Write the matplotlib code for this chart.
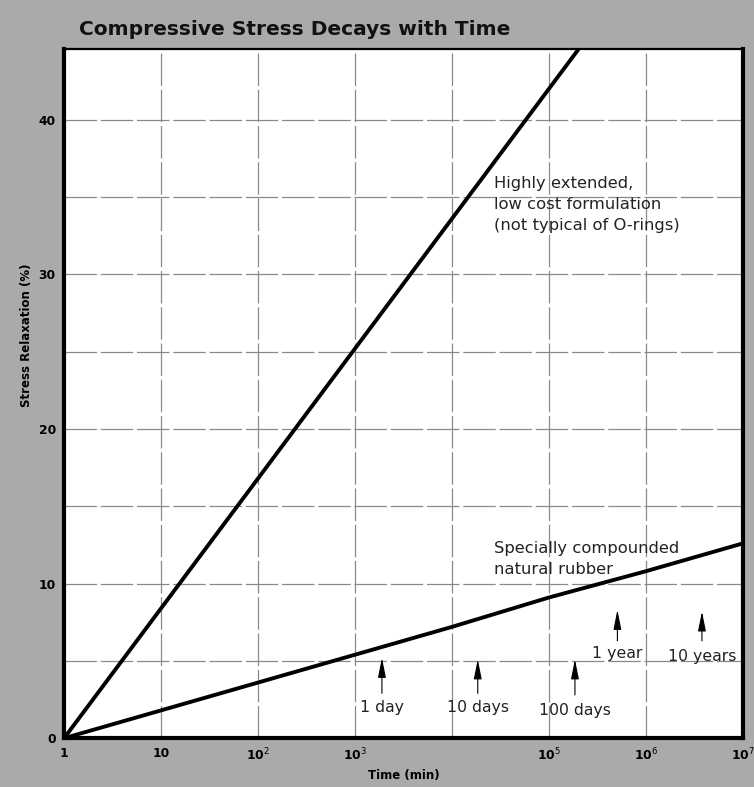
import matplotlib
matplotlib.use("Agg")
import matplotlib.pyplot as plt

# ---- data ----
title = "Compressive Stress Decays with Time"
x_label = "Time (min)"
y_label = "Stress Relaxation (%)"

x_ticks = [1, 10, 1e2, 1e3, 1e4, 1e5, 1e6, 1e7]
x_tick_labels = ["1", "10", "10$^2$", "10$^3$", "", "10$^5$", "10$^6$", "10$^7$"]
y_ticks = [0, 10, 20, 30, 40]
y_grid = [5, 10, 15, 20, 25, 30, 35, 40]

# Highly extended, low cost formulation
upper_time = [1, 10, 1e2, 1e3, 1e4, 1e5, 1e6]
upper_relax = [0, 8.4, 16.8, 25.2, 33.6, 42.0, 50.4]

# Specially compounded natural rubber
lower_time = [1, 10, 1e2, 1e3, 1e4, 1e5, 1e6, 1e7]
lower_relax = [0, 1.8, 3.6, 5.4, 7.2, 9.1, 10.8, 12.6]

marker_labels = ["1 day", "10 days", "100 days", "1 year", "10 years"]
marker_time = [1900, 18500, 186000, 510000, 3.8e6]
marker_tip = [5.2, 5.1, 5.1, 8.3, 8.2]
marker_tail = [2.9, 2.9, 2.8, 6.3, 6.3]
marker_text_y = [2.0, 2.0, 1.8, 5.5, 5.3]

upper_note = "Highly extended,\nlow cost formulation\n(not typical of O-rings)"
lower_note = "Specially compounded\nnatural rubber"

# ---- figure ----
bg = "#aaaaaa"
fig = plt.figure(figsize=(7.54, 7.87), dpi=100, facecolor=bg)
ax = fig.add_axes([0.085, 0.062, 0.90, 0.876])
ax.set_facecolor("white")
ax.set_xscale("log")
ax.set_xlim(1, 1e7)
ax.set_ylim(0, 44.6)

for g in x_ticks[1:-1]:
    ax.axvline(g, color="#8a8a8a", lw=0.9, ls=(0, (26, 3)), zorder=1)
for g in y_grid:
    ax.axhline(g, color="#8a8a8a", lw=0.9, ls=(0, (26, 3)), zorder=1)

ax.plot(upper_time, upper_relax, color="black", lw=2.8, solid_capstyle="butt", zorder=3)
ax.plot(lower_time, lower_relax, color="black", lw=2.8, solid_capstyle="butt", zorder=3)

note_kw = dict(fontsize=11.8, color="#222222", va="top", ha="left", linespacing=1.5)
ax.text(2.7e4, 36.35, upper_note, **note_kw)
ax.text(2.7e4, 12.75, lower_note, **note_kw)

for lab, xm, tip, tail, ty in zip(marker_labels, marker_time, marker_tip,
                                  marker_tail, marker_text_y):
    ax.annotate("", xy=(xm, tip), xytext=(xm, tail),
                arrowprops=dict(arrowstyle="-|>,head_length=1.0,head_width=0.2",
                                color="black", lw=0.8,
                                mutation_scale=12, shrinkA=0, shrinkB=0),
                zorder=4)
    ax.text(xm, ty, lab, fontsize=11.3, color="#222222", ha="center", va="center")

ax.xaxis.set_minor_locator(matplotlib.ticker.NullLocator())
ax.set_xticks(x_ticks)
ax.set_xticklabels(x_tick_labels)
ax.set_yticks(y_ticks)
ax.tick_params(axis="both", length=0, labelsize=8.8, pad=6)
for t in ax.get_xticklabels() + ax.get_yticklabels():
    t.set_fontweight("bold")

ax.set_xlabel(x_label, fontsize=8.5, fontweight="bold", labelpad=4)
ax.set_ylabel(y_label, fontsize=8.5, fontweight="bold")
ax.yaxis.set_label_coords(-0.046, 0.585)

for side, lw in [("left", 3.0), ("bottom", 3.0), ("top", 1.6), ("right", 3.0)]:
    ax.spines[side].set_linewidth(lw)
    ax.spines[side].set_color("black")

fig.text(0.105, 0.963, title, fontsize=14.5, fontweight="heavy",
         ha="left", va="center", color="#111111")

fig.savefig("out.png", dpi=100, facecolor=bg)
